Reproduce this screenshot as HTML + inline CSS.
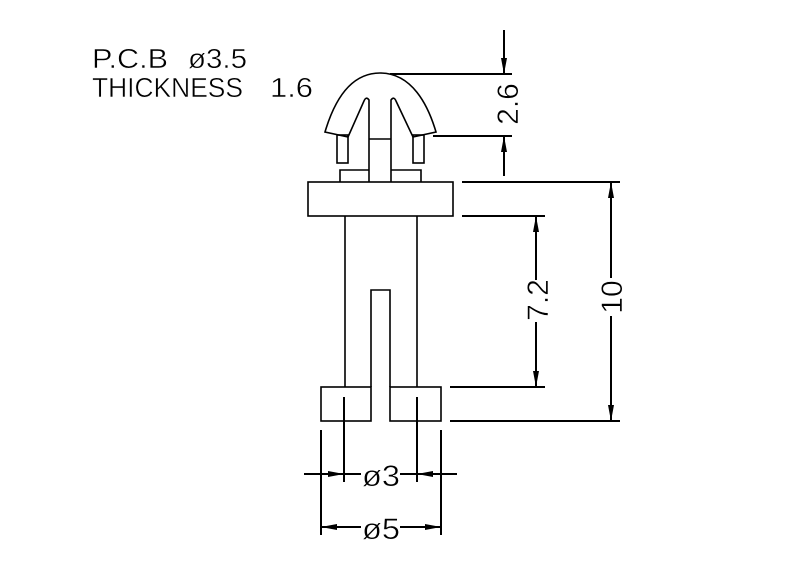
<!DOCTYPE html>
<html><head><style>body{margin:0;background:#fff}svg{display:block}</style></head>
<body>
<svg width="800" height="576" viewBox="0 0 800 576" xmlns="http://www.w3.org/2000/svg">
<defs>
<marker id="a" viewBox="0 0 16 6" refX="16" refY="3" markerWidth="16" markerHeight="6" markerUnits="userSpaceOnUse" orient="auto"><path d="M0,0 L16,3 L0,6 Z" fill="#000"/></marker>
</defs>
<g fill="none" stroke="#000" stroke-width="1.6">
<path d="M348,137 L325,132 C333,105 348,73 380,73 C412,73 428,105 436,132 L413,137 L396,101 Q394,96 391,100 L391,182"/>
<path d="M348,137 L364,101 Q366,96 369,100 L369,182"/>
<line x1="369" y1="139" x2="391" y2="139"/>
<rect x="337" y="135" width="11" height="28"/>
<rect x="413" y="135" width="11" height="28"/>
<path d="M369,170 L340,170 L340,182 M391,170 L421,170 L421,182"/>
<rect x="308" y="182" width="145" height="34"/>
<path d="M345,216 L345,387 M417,216 L417,387"/>
<path d="M371,387 L371,290 L390,290 L390,387"/>
<rect x="321" y="387" width="50" height="34"/>
<rect x="390" y="387" width="51" height="34"/>
</g>
<g fill="none" stroke="#000" stroke-width="2">
<line x1="390" y1="74" x2="512" y2="74"/>
<line x1="433" y1="136" x2="512" y2="136"/>
<line x1="504" y1="30" x2="504" y2="74" marker-end="url(#a)"/>
<line x1="504" y1="176" x2="504" y2="136" marker-end="url(#a)"/>
<line x1="462" y1="182" x2="620" y2="182"/>
<line x1="462" y1="216" x2="545" y2="216"/>
<line x1="450" y1="387" x2="545" y2="387"/>
<line x1="450" y1="421" x2="620" y2="421"/>
<line x1="536" y1="280" x2="536" y2="216" marker-end="url(#a)"/>
<line x1="536" y1="322" x2="536" y2="387" marker-end="url(#a)"/>
<line x1="611" y1="278" x2="611" y2="182" marker-end="url(#a)"/>
<line x1="611" y1="316" x2="611" y2="421" marker-end="url(#a)"/>
<line x1="344" y1="397" x2="344" y2="482"/>
<line x1="417" y1="397" x2="417" y2="482"/>
<line x1="321" y1="430" x2="321" y2="535"/>
<line x1="441" y1="430" x2="441" y2="535"/>
<line x1="304" y1="474" x2="344" y2="474" marker-end="url(#a)"/>
<line x1="344" y1="474" x2="361" y2="474"/>
<line x1="457" y1="474" x2="417" y2="474" marker-end="url(#a)"/>
<line x1="417" y1="474" x2="400" y2="474"/>
<line x1="361" y1="527" x2="321" y2="527" marker-end="url(#a)"/>
<line x1="400" y1="527" x2="441" y2="527" marker-end="url(#a)"/>
</g>
<g font-family="Liberation Sans, sans-serif" font-size="28" fill="#000" stroke="#fff" stroke-width="0.5">
<text x="92" y="68" textLength="76" lengthAdjust="spacingAndGlyphs">P.C.B</text>
<text x="188" y="68" textLength="59" lengthAdjust="spacingAndGlyphs">ø3.5</text>
<text x="92" y="97" textLength="151" lengthAdjust="spacingAndGlyphs">THICKNESS</text>
<text x="270" y="97" textLength="43" lengthAdjust="spacingAndGlyphs">1.6</text>
<text x="362" y="486" textLength="38" lengthAdjust="spacingAndGlyphs" font-size="30">ø3</text>
<text x="362" y="539" textLength="38" lengthAdjust="spacingAndGlyphs" font-size="30">ø5</text>
<text transform="translate(518,104) rotate(-90)" text-anchor="middle" font-size="30">2.6</text>
<text transform="translate(548,300) rotate(-90)" text-anchor="middle" font-size="30">7.2</text>
<text transform="translate(622,297) rotate(-90)" text-anchor="middle" font-size="30">10</text>
</g>
</svg>
</body></html>
